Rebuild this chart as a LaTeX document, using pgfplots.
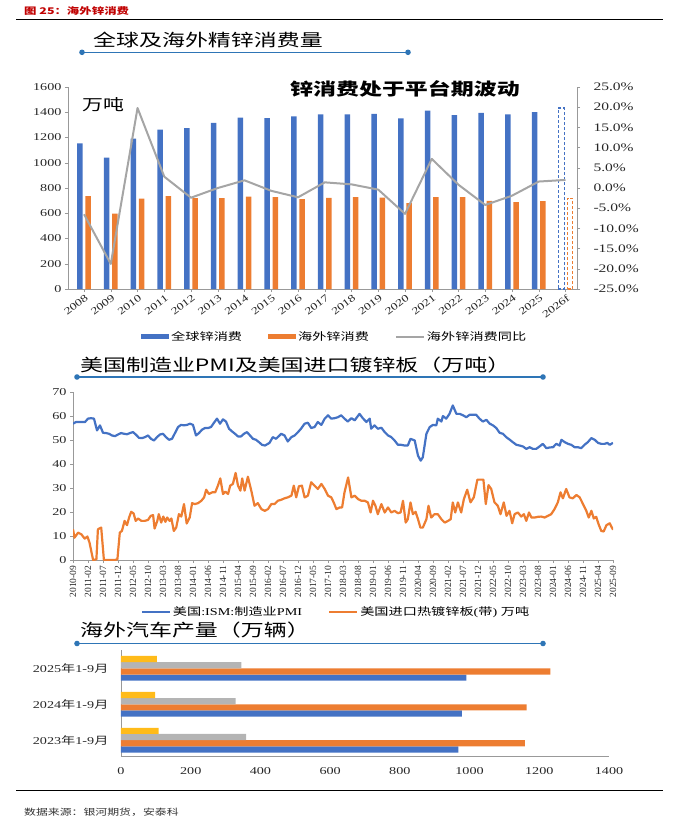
\documentclass[border=0pt]{standalone}
\usepackage{fontspec}
\usepackage{pgfplots}
\pgfplotsset{compat=1.18}
\setmainfont{Liberation Serif}[FakeStretch=1.35]
\newfontfamily\serifn{Liberation Serif}
\newfontfamily\cjk{Noto Sans CJK SC}[FakeStretch=1.35]
\definecolor{cblue}{HTML}{4472C4}
\definecolor{corange}{HTML}{ED7D31}
\definecolor{cgray}{HTML}{A5A5A5}
\definecolor{cgrayb}{HTML}{B4B4B4}
\definecolor{cyellow}{HTML}{FFC000}
\definecolor{ctitle}{HTML}{2E75B6}
\definecolor{cred}{HTML}{C00000}
\pgfplotsset{
  /pgf/number format/assume math mode=true,
  /pgf/number format/1000 sep={},
  myaxis/.style={scale only axis, anchor=south west,
    axis x line*=bottom, axis y line*=left,
    axis line style={draw=black!40, line width=0.6pt},
    tick style={draw=black!40, line width=0.5pt},
    major tick length=3pt, tick align=outside,
    ticklabel style={text=black!85},
    yticklabel style={font=\fontsize{10.5}{12}\selectfont}},
  barleg/.style={legend image code/.code={\fill[##1] (0pt,-2.6pt) rectangle (28pt,2.6pt);}},
  lineleg/.style={legend image code/.code={\draw[##1] (0pt,0pt) -- (28pt,0pt);}},
}
\begin{document}
\begin{tikzpicture}
\useasboundingbox (0,0) rectangle (679pt,-828pt);
% header
\node[anchor=west, text=cred, font=\cjk\bfseries\fontsize{9.2}{10}\selectfont, inner sep=0pt] at (24pt,-11pt) {图 25：海外锌消费};
\draw[line width=0.8pt] (16pt,-19.5pt) -- (663pt,-19.5pt);

% ---------- chart 1 ----------
\node[anchor=west, font=\cjk\fontsize{17}{17}\selectfont, inner sep=0pt] at (93pt,-40pt) {全球及海外精锌消费量};
\draw[ctitle, line width=1.3pt] (82pt,-52.3pt) -- (408pt,-52.3pt);
\fill[ctitle] (82pt,-52.3pt) circle (2.8pt) (408pt,-52.3pt) circle (2.8pt);

\begin{axis}[myaxis, at={(68pt,-289pt)}, width=509pt, height=202pt,
  xmin=-0.6, xmax=18.43, ymin=0, ymax=1600,
  ytick={0,200,...,1600},
  xtick={0,...,18},
  xticklabels={2008,2009,2010,2011,2012,2013,2014,2015,2016,2017,2018,2019,2020,2021,2022,2023,2024,2025,2026f},
  xticklabel style={font=\fontsize{10}{10}\selectfont, rotate=38, anchor=north east, inner sep=0.5pt, yshift=-1pt},
  ybar, bar width=5.5pt,
  legend columns=3,
  legend style={at={(0.524,-0.236)}, anchor=center, draw=none, fill=none,
    font=\fontsize{10.5}{12}\selectfont,
    /tikz/every even column/.append style={column sep=24pt}},
  legend cell align=left]
\addplot[ybar, bar shift=-4.2pt, fill=cblue, draw=none, barleg] coordinates {
(0,1154)(1,1040)(2,1191)(3,1262)(4,1275)(5,1315)(6,1357)(7,1354)(8,1368)
(9,1383)(10,1383)(11,1388)(12,1352)(13,1412)(14,1378)(15,1396)(16,1383)(17,1402)};
\addlegendentry{\cjk 全球锌消费}
\addplot[ybar, bar shift=4.2pt, fill=corange, draw=none, barleg] coordinates {
(0,735)(1,598)(2,716)(3,735)(4,719)(5,719)(6,732)(7,727)(8,711)
(9,722)(10,727)(11,724)(12,680)(13,727)(14,727)(15,698)(16,688)(17,696)};
\addlegendentry{\cjk 海外锌消费}
\addlegendimage{cgray, line width=2pt, lineleg}
\addlegendentry{\cjk 海外锌消费同比}
\addplot[ybar, bar shift=-4.2pt, bar width=6pt, fill=none, draw=cblue, dash pattern=on 3pt off 2pt, line width=1.4pt, forget plot] coordinates {(18,1433)};
\addplot[ybar, bar shift=4.6pt, bar width=5pt, fill=none, draw=corange, dash pattern=on 3pt off 2pt, line width=1.4pt, forget plot] coordinates {(18,719)};
\end{axis}

\begin{axis}[myaxis, at={(68pt,-289pt)}, width=509pt, height=202pt,
  xmin=-0.6, xmax=18.43, ymin=-25, ymax=25,
  axis x line=none, axis y line*=right,
  ytick={-25,-20,...,25},
  yticklabel style={font=\fontsize{11.5}{12}\selectfont, xshift=10pt},
  yticklabel={\pgfmathprintnumber[fixed,fixed zerofill,precision=1]{\tick}\%}]
\addplot[cgray, line width=2pt, line join=round] coordinates {
(0,-6.5)(1,-18.8)(2,19.8)(3,2.8)(4,-2.4)(5,0.0)(6,1.9)(7,-0.7)(8,-2.3)(9,1.4)
(10,0.9)(11,-0.4)(12,-6.4)(13,7.2)(14,0.8)(15,-4.2)(16,-1.9)(17,1.6)(18,2.0)};
\end{axis}

\node[anchor=west, font=\cjk\bfseries\fontsize{17}{17}\selectfont, inner sep=0pt] at (290pt,-89pt) {锌消费处于平台期波动};
\node[anchor=west, font=\cjk\fontsize{15.5}{16}\selectfont, inner sep=0pt] at (82pt,-105pt) {万吨};

% ---------- chart 2 ----------
\node[anchor=west, font=\cjk\fontsize{17}{17}\selectfont, inner sep=0pt] at (80pt,-365pt) {美国制造业PMI及美国进口镀锌板（万吨）};
\draw[ctitle, line width=1.3pt] (77pt,-377pt) -- (543pt,-377pt);
\fill[ctitle] (77pt,-377pt) circle (2.8pt) (543pt,-377pt) circle (2.8pt);

\begin{axis}[myaxis, at={(73pt,-560pt)}, width=540pt, height=168pt,
  xmin=0, xmax=180, ymin=0, ymax=70,
  ytick={0,10,...,70},
  xtick={0,5,...,180},
  xticklabels={2010-09,2011-02,2011-07,2011-12,2012-05,2012-10,2013-03,2013-08,2014-01,2014-06,2014-11,2015-04,2015-09,2016-02,2016-07,2016-12,2017-05,2017-10,2018-03,2018-08,2019-01,2019-06,2019-11,2020-04,2020-09,2021-02,2021-07,2021-12,2022-05,2022-10,2023-03,2023-08,2024-01,2024-06,2024-11,2025-04,2025-09},
  xticklabel style={font=\serifn\fontsize{9.5}{9.5}\selectfont, rotate=90, anchor=east, inner sep=0.5pt, xshift=-2pt},
  legend columns=2,
  legend style={at={(0.487,-0.31)}, anchor=center, draw=none, fill=none,
    font=\fontsize{10.5}{12}\selectfont,
    /tikz/every even column/.append style={column sep=24pt}},
  legend cell align=left]
\addplot[cblue, line width=2.2pt, line join=round, lineleg] coordinates {
(0,56.8)(1,57.5)(2,57.5)(3,57.5)(4,57.5)(5,58.9)(6,59.1)(7,58.9)(8,54.0)(9,56.1)
(10,53.0)(11,52.9)(12,52.6)(13,51.9)(14,51.6)(15,52.3)(16,52.9)(17,52.6)(18,52.4)(19,52.9)
(20,53.3)(21,52.2)(22,50.9)(23,50.8)(24,51.2)(25,51.9)(26,50.5)(27,49.8)(28,51.2)(29,52.3)
(30,52.6)(31,51.2)(32,50.1)(33,50.5)(34,52.9)(35,55.4)(36,56.3)(37,56.1)(38,56.3)(39,56.8)
(40,56.3)(41,51.9)(42,52.9)(43,54.3)(44,55.0)(45,55.0)(46,55.4)(47,57.2)(48,58.9)(49,56.8)
(50,58.6)(51,57.7)(52,54.7)(53,53.6)(54,52.6)(55,51.5)(56,51.5)(57,52.6)(58,53.3)(59,51.9)
(60,50.5)(61,50.1)(62,49.1)(63,48.0)(64,47.7)(65.5,48.8)(66.6,51.2)(67.7,50.5)(69.4,52.6)(70.5,51.9)
(71.6,49.4)(72.8,51.2)(73.9,51.9)(75,53.3)(76,54.7)(77.2,56.8)(78.3,57.2)(79.4,55.0)(80.5,55.4)(81.6,57.5)
(82.8,56.3)(83.9,58.9)(85,60.3)(86.1,58.9)(87.2,59.1)(88.3,59.5)(89.4,60.3)(90.5,58.9)(91.6,57.7)(92.8,59.1)
(93.9,58.2)(95.5,60.9)(96.6,59.1)(97.8,57.5)(98.9,58.9)(99.4,54.7)(100.5,56.1)(101.6,54.7)(102.8,55.1)(103.9,53.3)
(105,51.9)(106.1,51.2)(107.2,49.8)(108.3,48.0)(109.4,48.0)(110.5,47.7)(111.6,47.7)(112.5,50.5)(113.9,49.8)(115,43.5)
(115.9,41.4)(116.6,42.8)(117.8,52.6)(118.9,55.4)(120,56.3)(121.1,56.1)(121.6,58.9)(122.8,57.7)(123.3,60.0)(124.4,58.9)
(125.5,60.9)(126.6,64.4)(127.8,60.9)(128.9,60.9)(130,60.3)(131.1,59.5)(132.2,60.5)(133.3,60.5)(134.4,60.5)(135.5,58.9)
(136.6,57.7)(137.8,58.4)(138.9,56.8)(140,56.1)(141.1,55.0)(142.2,53.0)(143.3,52.6)(144.4,51.2)(145.5,50.2)(146.6,49.1)
(147.8,48.0)(148.9,47.7)(150,47.3)(151.1,46.3)(152.2,47.0)(153.3,46.3)(154.4,46.3)(155.5,47.3)(156.6,48.4)(157.8,46.6)
(158.9,46.9)(160,47.0)(161.1,48.4)(162.2,47.7)(162.8,50.1)(163.9,49.1)(165,48.4)(166.1,48.0)(167.2,47.0)(168.3,47.0)
(169.4,46.6)(170.5,48.0)(171.6,49.1)(172.8,50.8)(173.9,50.1)(175,48.8)(176.1,48.4)(177.2,48.4)(178.1,48.8)(178.9,48.0)
(180,48.8)};
\addlegendentry{{\cjk 美国}:ISM:{\cjk 制造业}PMI}
\addplot[corange, line width=2.2pt, line join=round, lineleg] coordinates {
(0,12.8)(0.5,9.3)(1.7,11.4)(2.8,10.7)(3.9,8.9)(4.8,9.8)(5.5,7.3)(6.7,0)(7.8,0.3)(8.3,12.8)
(9.4,13.5)(10.3,0)(11.7,0)(13.9,0)(14.8,0.3)(15.6,11.4)(16.3,12.1)(17.2,16.3)(18,14.5)(18.7,17.7)
(19.4,20.1)(20.2,19.4)(20.9,16.3)(21.7,17.3)(22.8,16.3)(23.9,16.3)(25,16.7)(25.9,18.4)(26.7,18.7)(27.2,13.1)
(28.1,16.3)(28.6,19.1)(29.4,15.6)(30.1,18.1)(30.8,15.9)(31.4,17.7)(32.2,16.3)(32.8,17.3)(33.6,12.1)(34.4,13.5)
(35.3,19.1)(36.1,18.1)(37,23.3)(37.9,15.2)(38.9,17.7)(39.7,23.7)(40.6,23.3)(41.7,23.7)(42.8,24.7)(43.7,26.1)
(44.4,29.3)(45.3,27.5)(46.4,28.2)(47.4,28.2)(48.3,31.0)(49.1,34.0)(50,27.5)(50.8,28.5)(51.7,27.5)(52.4,31.0)
(53.3,31.7)(54.2,36.3)(55,31.0)(55.8,28.9)(56.4,34.0)(57.2,28.9)(58.3,34.7)(59.5,28.5)(60.5,22.6)(61.6,23.7)
(62.8,21.2)(63.9,20.5)(65,21.2)(66.1,23.3)(67.2,23.3)(68.3,24.7)(69.4,25.1)(70.5,25.7)(71.6,26.1)(72.8,26.8)
(73.6,31.0)(74.4,26.1)(75.3,30.7)(76.3,31.0)(77.2,26.1)(78.3,26.8)(79.4,32.4)(80.5,31.0)(81.6,29.6)(82.8,31.7)
(83.9,29.6)(85,26.8)(86.1,26.1)(87,23.7)(87.8,21.2)(88.9,21.9)(89.7,21.9)(90.5,28.2)(91.7,34.4)(92.8,26.1)
(93.9,26.8)(95,25.4)(96.1,24.7)(97.2,24.7)(98.3,24.0)(99.2,19.8)(100,24.7)(100.8,22.6)(101.6,19.1)(102.8,23.3)
(103.9,19.8)(105,21.9)(106.1,19.8)(107.2,20.5)(108.3,19.5)(109.2,19.8)(110,24.7)(110.9,15.6)(111.6,17.0)(112.5,24.0)
(113.3,19.1)(114.2,20.1)(115,17.0)(115.8,13.5)(116.6,13.5)(117.8,17.0)(118.5,22.6)(119.4,17.7)(120.5,19.1)(121.6,19.1)
(122.8,17.0)(123.9,15.6)(125,16.3)(125.9,17.0)(126.6,24.0)(127.4,19.8)(128.3,24.0)(129.4,19.8)(130.3,25.4)(131.4,29.3)
(132.5,24.0)(133.6,26.1)(134.8,33.5)(135.9,33.5)(136.8,33.5)(137.6,23.3)(138.5,31.2)(139.4,29.6)(140.5,24.0)(141.6,22.6)
(142.5,19.1)(143.6,24.0)(144.5,18.4)(145.5,20.5)(146.4,15.3)(147.2,19.1)(148.3,19.8)(149.4,18.1)(150.3,19.1)(151.1,16.3)
(152,19.8)(152.8,17.7)(153.9,17.7)(155,18.0)(156.1,18.1)(157.2,17.7)(158.3,18.4)(159.4,19.1)(160.5,21.2)(161.6,24.0)
(162.5,28.2)(163.3,25.7)(164.4,29.6)(165.5,26.1)(166.6,25.7)(167.8,27.1)(168.9,26.1)(170,23.3)(171.1,20.5)(171.9,17.7)
(172.8,20.5)(173.6,17.3)(174.4,18.0)(175.2,14.9)(176.1,12.1)(176.9,11.9)(177.8,14.5)(178.9,15.3)(180,12.6)};
\addlegendentry{{\cjk 美国进口热镀锌板}({\cjk 带}) {\cjk 万吨}}
\end{axis}

% ---------- chart 3 ----------
\node[anchor=west, font=\cjk\fontsize{17}{17}\selectfont, inner sep=0pt] at (80pt,-630pt) {海外汽车产量（万辆）};
\draw[ctitle, line width=1.3pt] (77pt,-643.5pt) -- (543pt,-643.5pt);
\fill[ctitle] (77pt,-643.5pt) circle (2.8pt) (543pt,-643.5pt) circle (2.8pt);

\begin{axis}[myaxis, at={(121pt,-756pt)}, width=488pt, height=106pt,
  xmin=0, xmax=1400, ymin=-0.44, ymax=2.51,
  xtick={0,200,...,1400}, ytick={0,1,2},
  yticklabels={2023{\cjk 年}1-9{\cjk 月},2024{\cjk 年}1-9{\cjk 月},2025{\cjk 年}1-9{\cjk 月}},
  yticklabel style={xshift=-6pt},
  xticklabel style={font=\fontsize{10.5}{12}\selectfont, yshift=-5pt},
  x tick style={draw=none}, y tick style={draw=none},
  xbar, bar width=6.2pt]
\addplot[xbar, bar shift=-9.3pt, fill=cblue, draw=none] coordinates {(968,0)(978,1)(991,2)};
\addplot[xbar, bar shift=-3.1pt, fill=corange, draw=none] coordinates {(1159,0)(1164,1)(1232,2)};
\addplot[xbar, bar shift=3.1pt, fill=cgrayb, draw=none] coordinates {(359,0)(329,1)(345,2)};
\addplot[xbar, bar shift=9.3pt, fill=cyellow!80!orange!90, draw=none] coordinates {(108,0)(98,1)(103,2)};
\end{axis}

\draw[line width=0.8pt] (16pt,-790pt) -- (663pt,-790pt);
\node[anchor=west, font=\cjk\fontsize{8.8}{10}\selectfont, text=black!80, inner sep=0pt] at (24pt,-812pt) {数据来源：银河期货，安泰科};
\end{tikzpicture}
\end{document}
